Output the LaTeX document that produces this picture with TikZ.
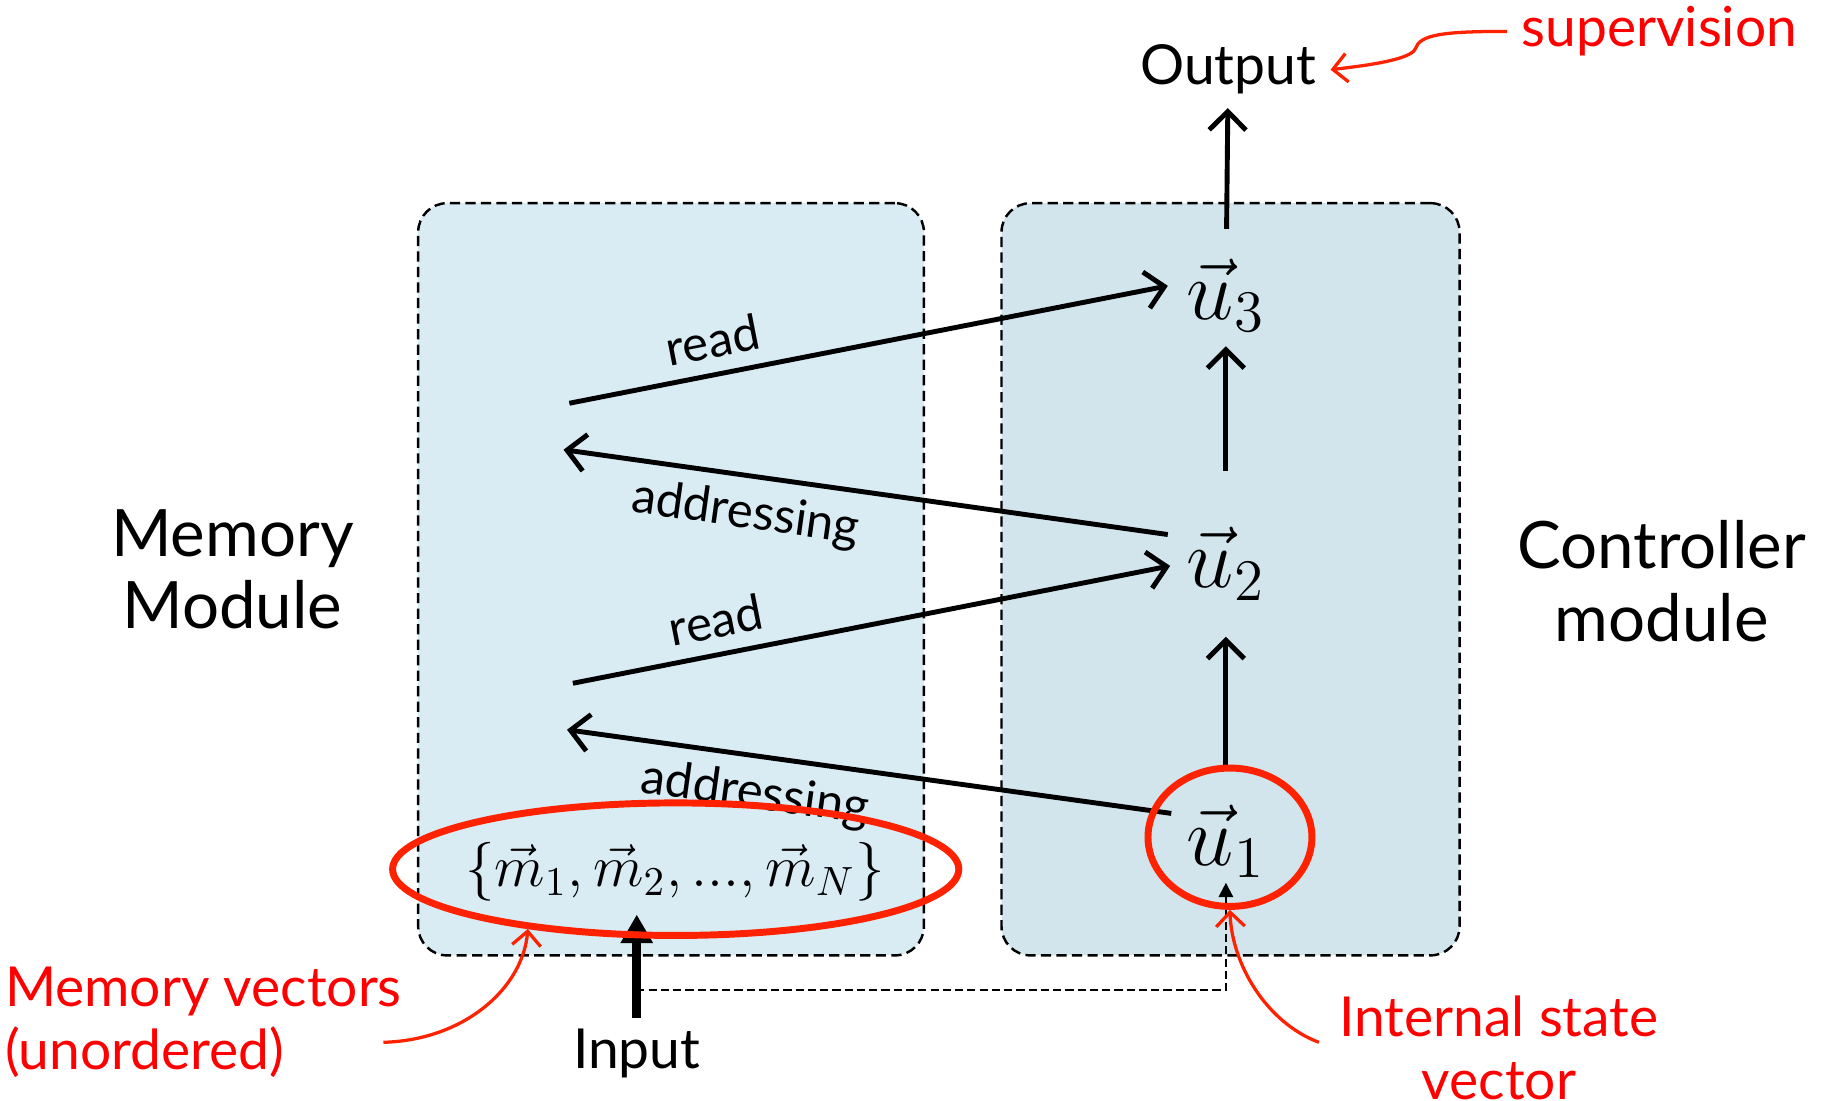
\documentclass[tikz,border=0pt]{standalone}
\usepackage{fontspec}
\setmainfont{Lato}
\usetikzlibrary{arrows.meta,shapes.geometric,positioning}
\definecolor{memblue}{RGB}{217,236,244}
\definecolor{ctrlblue}{RGB}{210,229,236}
\definecolor{ringred}{RGB}{255,34,0}
\definecolor{notered}{RGB}{255,0,0}

\begin{document}
\begin{tikzpicture}[x=0.01cm,y=-0.01cm,
  modbox/.style={draw,dash pattern=on 2.5pt off 1.3pt,line width=0.6pt,rounded corners=0.25cm,minimum height=6.47cm},
  vecnode/.style={font=\fontsize{21}{25}\selectfont,inner sep=1pt},
  ring/.style={draw=ringred,line width=1.7pt,ellipse,inner sep=0pt},
  note/.style={text=notered,font=\fontsize{13.5}{15.5}\selectfont},
  modlabel/.style={font=\fontsize{16}{17.8}\selectfont,align=center},
  iolabel/.style={font=\fontsize{13.5}{16}\selectfont}]
\useasboundingbox (0,0) rectangle (1568,947);
\begin{scope}[every node/.style={modbox}]
    \node[fill=memblue, minimum width=4.35cm] (mem) at (577.5,498.5) {};
    \node[fill=ctrlblue, minimum width=3.94cm] (ctrl) at (1059,498.5) {};
\end{scope}
\node[modlabel] (memlbl) at (200,490) {Memory\\Module};
\node[modlabel] (ctrllbl) at (1430,500) {Controller\\module};
\node[iolabel] (out) at (1057,60) {Output};
\node[iolabel] (inp) at (548,907) {Input};
\begin{scope}[every node/.style={vecnode}]
    \node (u3) at (1055,254) {$\vec{u}_3$};
    \node (u2) at (1055,485) {$\vec{u}_2$};
    \node (u1) at (1055,724) {$\vec{u}_1$};
\end{scope}
\node[font=\fontsize{14.5}{17}\selectfont] (mset) at (581,750) {$\{\vec{m}_1, \vec{m}_2, ..., \vec{m}_N\}$};
\coordinate (rd2) at (490,347);
\coordinate (ad2) at (485,387);
\coordinate (rd1) at (493,588);
\coordinate (ad1) at (488,628);
\coordinate (turn) at (548,852);
\begin{scope}[>={Straight Barb[length=4.5pt,width=9pt]},
              every node/.style={font=\fontsize{12}{14}\selectfont,sloped},
              every edge/.style={draw,line width=1.2pt}]
    \path [->] (rd2) edge node[pos=0.25,above] {read} ([shift={(-50,-8)}]u3.center);
    \path [->] ([shift={(-50,-25)}]u2.center) edge node[pos=0.69,below] {addressing} (ad2);
    \path [->] (rd1) edge node[pos=0.25,above] {read} ([shift={(-48,2)}]u2.center);
    \path [->] ([shift={(-47,-24)}]u1.center) edge node[pos=0.68,below] {addressing} (ad1);
    \path [->, shorten <=0.62cm, shorten >=0.63cm] (u1.center) edge (u2.center);
    \path [->, shorten <=0.8cm, shorten >=0.44cm] (u2.center) edge (u3.center);
    \path [->, shorten <=0.57cm, shorten >=0.33cm] (u3.center) edge (out.center);
\end{scope}
\draw[dash pattern=on 2pt off 1pt,line width=0.5pt,-{Triangle[length=3.5pt,width=3.5pt]}] (inp.north) -- (turn) -| (u1.south);
\draw[line width=2.2pt,-{Triangle[length=7pt,width=7.5pt]},shorten <=0.31cm,shorten >=0.37cm] (inp.center) -- (inp.center |- mset.center);
\node[ring, minimum width=4.87cm, minimum height=1.14cm] (mring) at (581.5,748) {};
\node[ring, minimum width=1.41cm, minimum height=1.19cm] (uring) at (1058.5,720.5) {};
\node[note] (sup) at (1428,27) {supervision};
\node[note,align=left] (mvec) at (175,880) {Memory vectors\\ (unordered)};
\node[note,align=center] (istate) at (1290,902) {Internal state\\vector};
\begin{scope}[draw=ringred,line width=0.8pt,->,>={Straight Barb[length=3.5pt,width=7pt]}]
    \draw (sup.west) .. controls (1240,27) and (1222,30) .. (1218,42) .. controls (1214,52) and (1170,57) .. (out.east);
    \draw (330,897) .. controls (400,895) and (450,850) .. (mring.202);
    \draw (1135,897) .. controls (1090,880) and (1060,830) .. (uring.south);
\end{scope}
\end{tikzpicture}
\end{document}
